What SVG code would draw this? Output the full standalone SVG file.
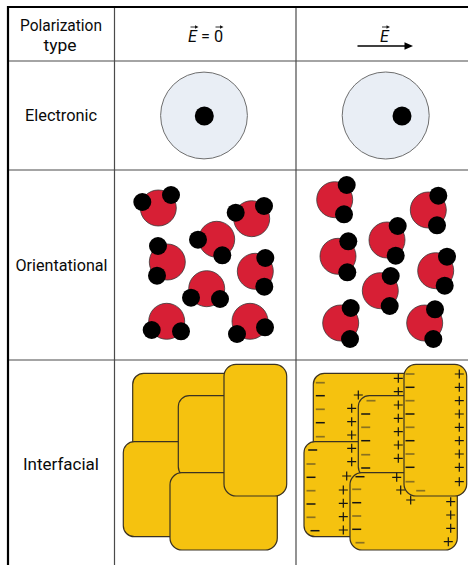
<svg xmlns="http://www.w3.org/2000/svg" width="468" height="565" viewBox="0 0 468 565">
  <style>
    .lbl { font-family: Roboto, "Liberation Sans", sans-serif; font-size: 16px; fill: #0a0a0a; }
    .grid { stroke: #4a4a4a; stroke-width: 1.2; fill: none; }
    .frame { stroke: #000; stroke-width: 2.2; fill: none; }
    .shell { fill: #e9eef5; stroke: #6e6e6e; stroke-width: 1; }
    .core { fill: #000; }
    .mol { fill: #d71f35; stroke: #3a3a3a; stroke-width: 0.8; }
    .atom { fill: #000; }
    .grain { fill: #f5c20f; stroke: #3a3222; stroke-width: 1.2; }
    .neg { stroke: #141414; stroke-width: 1.5; }
    .negf { stroke: #8a7120; stroke-width: 1.7; }
    .pos { stroke: #141414; stroke-width: 1.2; fill: none; }
  </style>
  <defs>
    <path id="minus" d="M-4.5 0H4.5"/>
    <path id="plus" d="M-4.5 0H4.5M0 -4.5V4.5"/>
  </defs>

  <rect width="468" height="565" fill="#fff"/>

  <!-- table grid -->
  <g id="grid">
    <line class="grid" x1="8" y1="61" x2="468" y2="61"/>
    <line class="grid" x1="8" y1="170" x2="468" y2="170" stroke="#555"/>
    <line class="grid" x1="8" y1="360" x2="468" y2="360" stroke="#888"/>
    <line class="grid" x1="114.5" y1="7" x2="114.5" y2="565"/>
    <line class="grid" x1="296" y1="7" x2="296" y2="565" stroke="#777"/>
    <line class="frame" x1="7" y1="7" x2="468" y2="7"/>
    <line class="frame" x1="8" y1="6" x2="8" y2="565"/>
  </g>

  <!-- header row -->
  <g id="header">
    <text class="lbl" x="61" y="31" text-anchor="middle" textLength="82" lengthAdjust="spacingAndGlyphs">Polarization</text>
    <text class="lbl" x="60" y="51" text-anchor="middle" textLength="33" lengthAdjust="spacingAndGlyphs">type</text>

    <text class="lbl" x="205.5" y="42" text-anchor="middle" textLength="35" lengthAdjust="spacingAndGlyphs"><tspan font-style="italic">E</tspan> = 0</text>
    <g fill="#151515" stroke="#151515" stroke-width="0.9">
      <path d="M190.5 27H196.5"/>
      <path d="M195 25.2L198.5 27L195 28.8Z" stroke="none"/>
      <path d="M215.5 27H221.5"/>
      <path d="M220 25.2L223.5 27L220 28.8Z" stroke="none"/>
    </g>

    <text class="lbl" x="384.5" y="42" text-anchor="middle" font-style="italic">E</text>
    <g fill="#151515" stroke="#151515" stroke-width="0.9">
      <path d="M382 27H388"/>
      <path d="M386.5 25.2L390 27L386.5 28.8Z" stroke="none"/>
    </g>
    <path d="M357.5 46H406" stroke="#000" stroke-width="1.6"/>
    <path d="M404.5 42.3L413 46L404.5 49.7Z" fill="#000"/>
  </g>

  <!-- row labels -->
  <g id="row-electronic-label">
    <text class="lbl" x="61" y="121" text-anchor="middle" textLength="72" lengthAdjust="spacingAndGlyphs">Electronic</text>
  </g>
  <g id="row-orientational-label">
    <text class="lbl" x="61.5" y="271" text-anchor="middle" textLength="92" lengthAdjust="spacingAndGlyphs">Orientational</text>
  </g>
  <g id="row-interfacial-label">
    <text class="lbl" x="61" y="470" text-anchor="middle" textLength="76" lengthAdjust="spacingAndGlyphs">Interfacial</text>
  </g>

  <!-- electronic: atom without / with field -->
  <g id="atom-unpolarized">
    <circle class="shell" cx="204" cy="115.5" r="43.4"/>
    <circle class="core" cx="204.3" cy="116" r="9.5"/>
  </g>
  <g id="atom-polarized">
    <circle class="shell" cx="385.7" cy="115.5" r="43.5"/>
    <circle class="core" cx="402" cy="116" r="9.5"/>
  </g>

  <!-- orientational: random dipoles -->
  <g id="dipoles-random">
    <g><circle class="mol" cx="158.3" cy="208" r="18"/><circle class="atom" cx="142.3" cy="202" r="9"/><circle class="atom" cx="171" cy="195" r="9"/></g>
    <g><circle class="mol" cx="251.7" cy="218.7" r="18"/><circle class="atom" cx="235.7" cy="212.7" r="9"/><circle class="atom" cx="264" cy="206" r="9"/></g>
    <g><circle class="mol" cx="216.7" cy="239.3" r="18"/><circle class="atom" cx="198" cy="239.7" r="9"/><circle class="atom" cx="222.3" cy="255.3" r="9"/></g>
    <g><circle class="mol" cx="167.3" cy="262" r="18"/><circle class="atom" cx="158" cy="246" r="9"/><circle class="atom" cx="157" cy="275.7" r="9"/></g>
    <g><circle class="mol" cx="255.3" cy="271.3" r="18"/><circle class="atom" cx="265.3" cy="258" r="9"/><circle class="atom" cx="264.3" cy="286.7" r="9"/></g>
    <g><circle class="mol" cx="206.7" cy="288.7" r="18"/><circle class="atom" cx="191" cy="297.7" r="9"/><circle class="atom" cx="220" cy="299" r="9"/></g>
    <g><circle class="mol" cx="166.7" cy="321.3" r="18"/><circle class="atom" cx="151.7" cy="330" r="9"/><circle class="atom" cx="181" cy="331.3" r="9"/></g>
    <g><circle class="mol" cx="250" cy="321.3" r="18"/><circle class="atom" cx="237" cy="334" r="9"/><circle class="atom" cx="265" cy="327.3" r="9"/></g>
  </g>

  <!-- orientational: dipoles aligned with the field -->
  <g id="dipoles-aligned">
    <g><circle class="mol" cx="334.7" cy="199.7" r="18"/><circle class="atom" cx="346.7" cy="185" r="9"/><circle class="atom" cx="344" cy="214.3" r="9"/></g>
    <g><circle class="mol" cx="428.3" cy="210" r="18"/><circle class="atom" cx="438.3" cy="195.7" r="9"/><circle class="atom" cx="437" cy="225.3" r="9"/></g>
    <g><circle class="mol" cx="387" cy="240" r="18"/><circle class="atom" cx="397.7" cy="226" r="9"/><circle class="atom" cx="395.7" cy="255.7" r="9"/></g>
    <g><circle class="mol" cx="338" cy="256.3" r="18"/><circle class="atom" cx="348.3" cy="241.3" r="9"/><circle class="atom" cx="347.3" cy="272.3" r="9"/></g>
    <g><circle class="mol" cx="435.7" cy="270.7" r="18"/><circle class="atom" cx="447" cy="256.7" r="9"/><circle class="atom" cx="444.7" cy="285.7" r="9"/></g>
    <g><circle class="mol" cx="380.3" cy="290.7" r="18"/><circle class="atom" cx="390.7" cy="276" r="9"/><circle class="atom" cx="389.7" cy="306" r="9"/></g>
    <g><circle class="mol" cx="340.7" cy="323" r="18"/><circle class="atom" cx="350.7" cy="308" r="9"/><circle class="atom" cx="350" cy="339" r="9"/></g>
    <g><circle class="mol" cx="424.7" cy="323" r="18"/><circle class="atom" cx="435" cy="309.3" r="9"/><circle class="atom" cx="433.3" cy="339" r="9"/></g>
  </g>

  <!-- interfacial: grains without field -->
  <g id="grains-neutral">
    <rect class="grain" x="132.7" y="373.3" width="120" height="90" rx="11"/>
    <rect class="grain" x="123.3" y="441.7" width="72" height="95" rx="11"/>
    <rect class="grain" x="178.3" y="395.7" width="80" height="82" rx="11"/>
    <rect class="grain" x="170" y="472.7" width="107.3" height="77.3" rx="12"/>
    <rect class="grain" x="224" y="364.3" width="62.7" height="131.7" rx="12"/>
  </g>

  <!-- interfacial: grains with charges piled at the boundaries -->
  <g id="grains-charged">
    <g id="grain-a">
      <rect class="grain" x="313.3" y="373.3" width="120" height="90" rx="11"/>
      <use href="#minus" class="negf" x="320.3" y="382.7"/>
      <use href="#minus" class="neg" x="320.3" y="395.7"/>
      <use href="#minus" class="negf" x="320.3" y="409.3"/>
      <use href="#minus" class="neg" x="320.3" y="422.7"/>
      <use href="#minus" class="negf" x="320.3" y="436.7"/>
      <use href="#plus" class="pos" x="398.3" y="378.3"/>
      <use href="#plus" class="pos" x="398.3" y="391.7"/>
      <use href="#plus" class="pos" x="358.3" y="395"/>
      <use href="#plus" class="pos" x="351.7" y="408.3"/>
      <use href="#plus" class="pos" x="351.7" y="421.7"/>
      <use href="#plus" class="pos" x="351.7" y="435"/>
    </g>
    <g id="grain-b">
      <rect class="grain" x="304" y="441.7" width="72" height="95" rx="11"/>
      <use href="#minus" class="neg" x="312.7" y="450"/>
      <use href="#minus" class="negf" x="311" y="464"/>
      <use href="#minus" class="neg" x="311" y="477.3"/>
      <use href="#minus" class="negf" x="311" y="490.7"/>
      <use href="#minus" class="neg" x="311" y="504"/>
      <use href="#minus" class="negf" x="311" y="517.3"/>
      <use href="#minus" class="neg" x="315" y="530.7"/>
      <use href="#plus" class="pos" x="351.7" y="448.3"/>
      <use href="#plus" class="pos" x="351.7" y="461.7"/>
      <use href="#plus" class="pos" x="346.7" y="476"/>
      <use href="#plus" class="pos" x="343.3" y="490"/>
      <use href="#plus" class="pos" x="343.3" y="503.3"/>
      <use href="#plus" class="pos" x="343.3" y="516.7"/>
      <use href="#plus" class="pos" x="343.3" y="530"/>
    </g>
    <g id="grain-c">
      <rect class="grain" x="358.3" y="395.7" width="80" height="82" rx="11"/>
      <use href="#minus" class="negf" x="371" y="400.7"/>
      <use href="#minus" class="neg" x="365.7" y="414"/>
      <use href="#minus" class="negf" x="365.7" y="427.3"/>
      <use href="#minus" class="neg" x="365.7" y="440.7"/>
      <use href="#minus" class="negf" x="365.7" y="454.7"/>
      <use href="#minus" class="neg" x="365.7" y="468"/>
      <use href="#plus" class="pos" x="398.3" y="405"/>
      <use href="#plus" class="pos" x="398.3" y="418.3"/>
      <use href="#plus" class="pos" x="398.3" y="431.7"/>
      <use href="#plus" class="pos" x="398.3" y="445"/>
      <use href="#plus" class="pos" x="398.3" y="458.3"/>
    </g>
    <g id="grain-e">
      <rect class="grain" x="350" y="472.7" width="107.3" height="77.3" rx="12"/>
      <use href="#minus" class="neg" x="360" y="476.7"/>
      <use href="#minus" class="negf" x="356.7" y="489.3"/>
      <use href="#minus" class="neg" x="356.7" y="502.7"/>
      <use href="#minus" class="negf" x="356.7" y="516"/>
      <use href="#minus" class="neg" x="356.7" y="529.3"/>
      <use href="#minus" class="negf" x="360" y="542.7"/>
      <use href="#plus" class="pos" x="396.7" y="477.3"/>
      <use href="#plus" class="pos" x="400.7" y="490"/>
      <use href="#plus" class="pos" x="410.7" y="500"/>
      <use href="#plus" class="pos" x="450.7" y="501.7"/>
      <use href="#plus" class="pos" x="450.7" y="515"/>
      <use href="#plus" class="pos" x="450.7" y="528.3"/>
      <use href="#plus" class="pos" x="448.3" y="541.7"/>
    </g>
    <g id="grain-d">
      <rect class="grain" x="404" y="364.3" width="62.7" height="131.7" rx="12"/>
      <use href="#minus" class="negf" x="410" y="374"/>
      <use href="#minus" class="neg" x="410" y="387.3"/>
      <use href="#minus" class="negf" x="410" y="400.7"/>
      <use href="#minus" class="neg" x="410" y="414"/>
      <use href="#minus" class="negf" x="410" y="427.3"/>
      <use href="#minus" class="neg" x="410" y="440.7"/>
      <use href="#minus" class="negf" x="410" y="454"/>
      <use href="#minus" class="neg" x="410" y="467.3"/>
      <use href="#minus" class="negf" x="410" y="481.7"/>
      <use href="#minus" class="negf" x="420.7" y="490.7"/>
      <use href="#plus" class="pos" x="459.3" y="374"/>
      <use href="#plus" class="pos" x="459.3" y="387.3"/>
      <use href="#plus" class="pos" x="459.3" y="400.7"/>
      <use href="#plus" class="pos" x="459.3" y="414"/>
      <use href="#plus" class="pos" x="459.3" y="427.3"/>
      <use href="#plus" class="pos" x="459.3" y="440.7"/>
      <use href="#plus" class="pos" x="459.3" y="454"/>
      <use href="#plus" class="pos" x="459.3" y="467.3"/>
      <use href="#plus" class="pos" x="459.3" y="481.7"/>
    </g>
  </g>
</svg>
